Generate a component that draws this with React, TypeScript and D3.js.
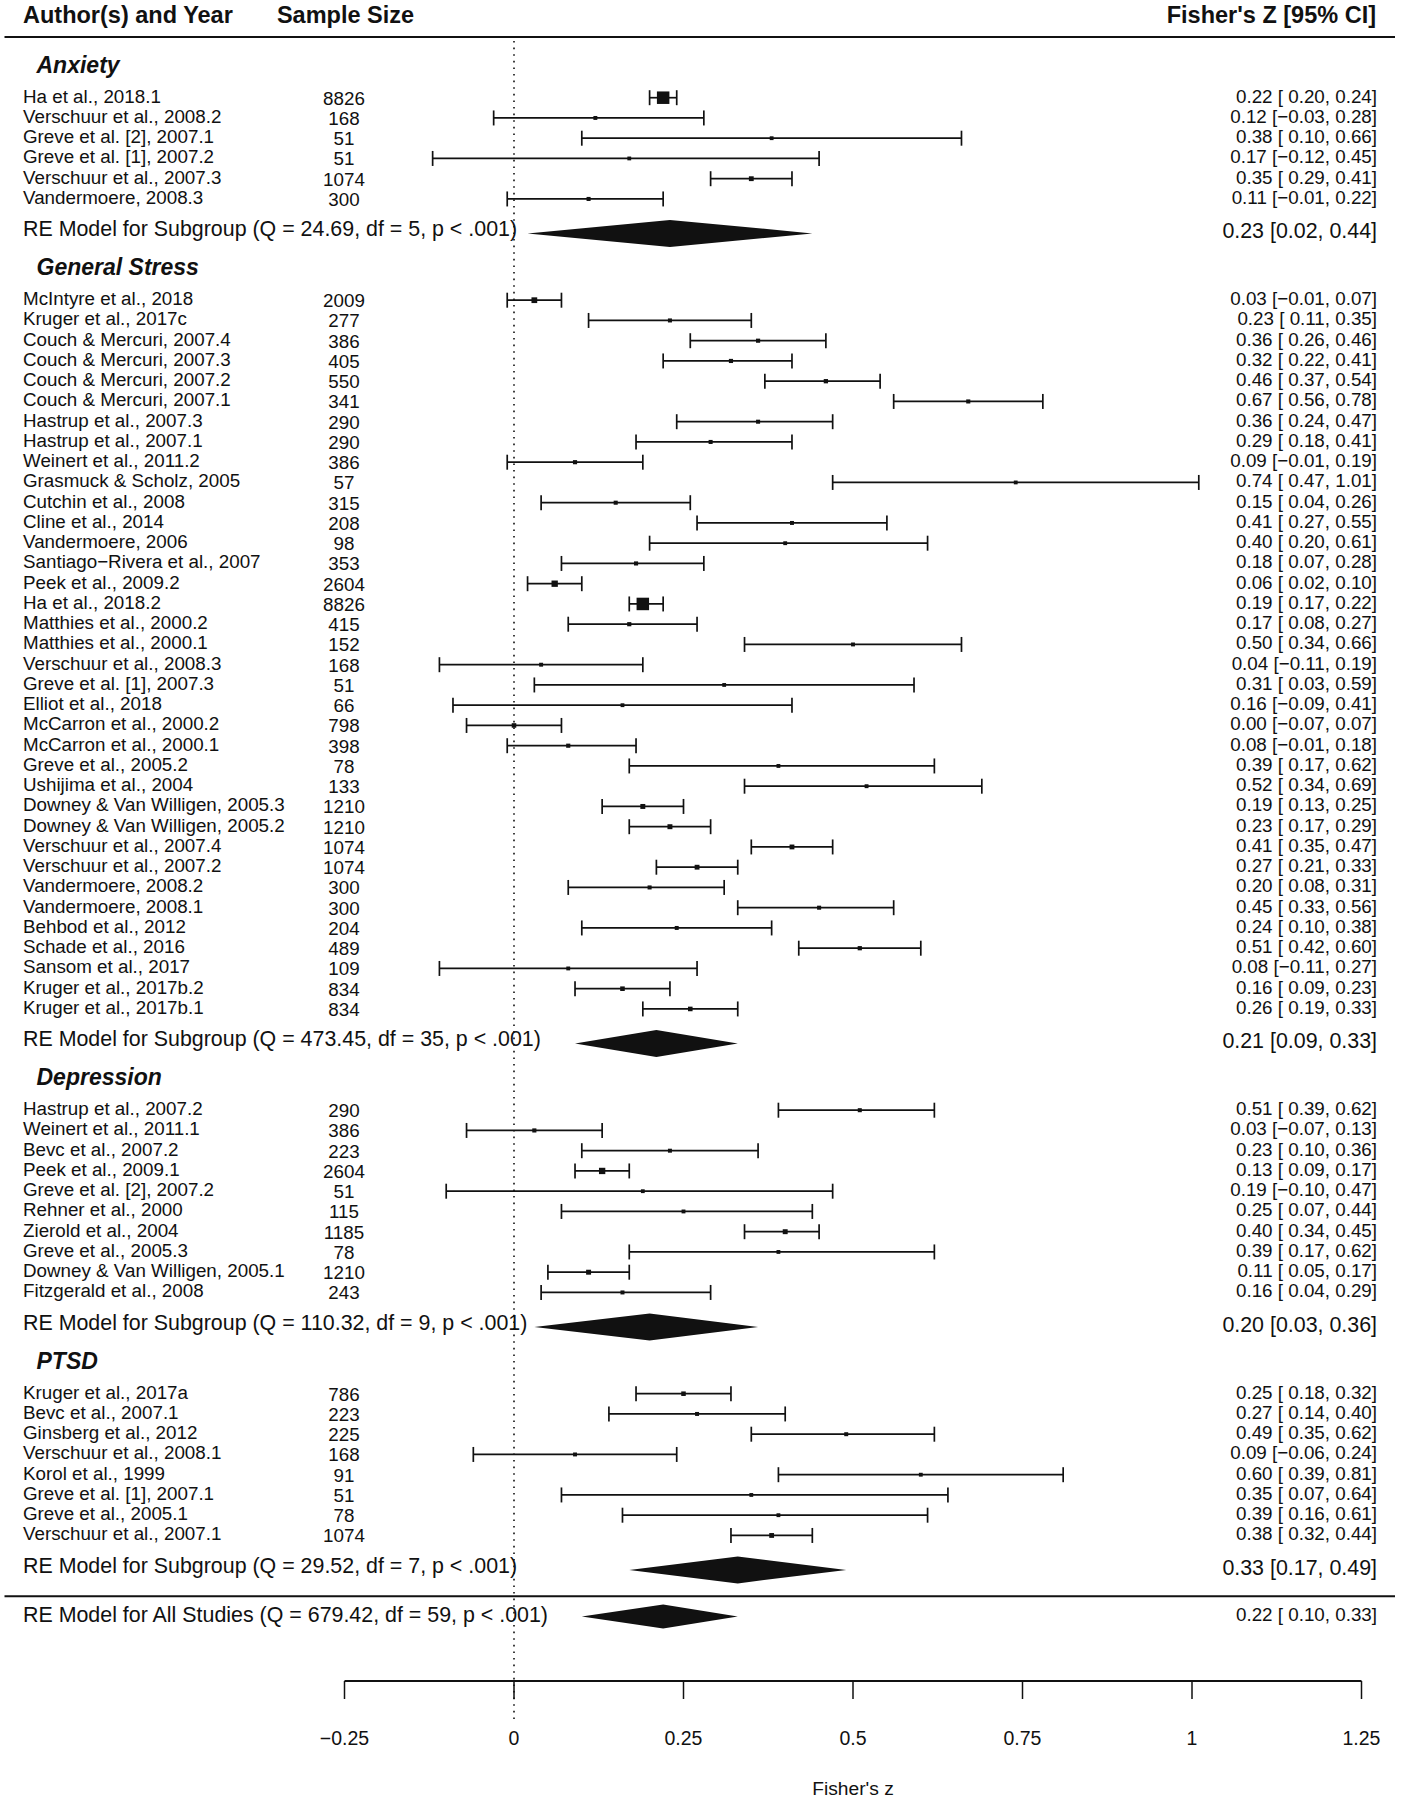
import React from 'react';
import * as d3 from 'd3';

// ---------- data ----------
const anxietyLabels = ['Ha et al., 2018.1', 'Verschuur et al., 2008.2', 'Greve et al. [2], 2007.1', 'Greve et al. [1], 2007.2', 'Verschuur et al., 2007.3', 'Vandermoere, 2008.3'];
const anxietyN = [8826, 168, 51, 51, 1074, 300];
const anxietyZ = [0.22, 0.12, 0.38, 0.17, 0.35, 0.11];
const anxietyLo = [0.20, -0.03, 0.10, -0.12, 0.29, -0.01];
const anxietyHi = [0.24, 0.28, 0.66, 0.45, 0.41, 0.22];

const stressLabels = [
  'McIntyre et al., 2018', 'Kruger et al., 2017c', 'Couch & Mercuri, 2007.4', 'Couch & Mercuri, 2007.3', 'Couch & Mercuri, 2007.2',
  'Couch & Mercuri, 2007.1', 'Hastrup et al., 2007.3', 'Hastrup et al., 2007.1', 'Weinert et al., 2011.2', 'Grasmuck & Scholz, 2005',
  'Cutchin et al., 2008', 'Cline et al., 2014', 'Vandermoere, 2006', 'Santiago\u2212Rivera et al., 2007', 'Peek et al., 2009.2',
  'Ha et al., 2018.2', 'Matthies et al., 2000.2', 'Matthies et al., 2000.1', 'Verschuur et al., 2008.3', 'Greve et al. [1], 2007.3',
  'Elliot et al., 2018', 'McCarron et al., 2000.2', 'McCarron et al., 2000.1', 'Greve et al., 2005.2', 'Ushijima et al., 2004',
  'Downey & Van Willigen, 2005.3', 'Downey & Van Willigen, 2005.2', 'Verschuur et al., 2007.4', 'Verschuur et al., 2007.2', 'Vandermoere, 2008.2',
  'Vandermoere, 2008.1', 'Behbod et al., 2012', 'Schade et al., 2016', 'Sansom et al., 2017', 'Kruger et al., 2017b.2', 'Kruger et al., 2017b.1',
];
const stressN = [2009, 277, 386, 405, 550, 341, 290, 290, 386, 57, 315, 208, 98, 353, 2604, 8826, 415, 152, 168, 51, 66, 798, 398, 78, 133, 1210, 1210, 1074, 1074, 300, 300, 204, 489, 109, 834, 834];
const stressZ = [0.03, 0.23, 0.36, 0.32, 0.46, 0.67, 0.36, 0.29, 0.09, 0.74, 0.15, 0.41, 0.40, 0.18, 0.06, 0.19, 0.17, 0.50, 0.04, 0.31, 0.16, 0.00, 0.08, 0.39, 0.52, 0.19, 0.23, 0.41, 0.27, 0.20, 0.45, 0.24, 0.51, 0.08, 0.16, 0.26];
const stressLo = [-0.01, 0.11, 0.26, 0.22, 0.37, 0.56, 0.24, 0.18, -0.01, 0.47, 0.04, 0.27, 0.20, 0.07, 0.02, 0.17, 0.08, 0.34, -0.11, 0.03, -0.09, -0.07, -0.01, 0.17, 0.34, 0.13, 0.17, 0.35, 0.21, 0.08, 0.33, 0.10, 0.42, -0.11, 0.09, 0.19];
const stressHi = [0.07, 0.35, 0.46, 0.41, 0.54, 0.78, 0.47, 0.41, 0.19, 1.01, 0.26, 0.55, 0.61, 0.28, 0.10, 0.22, 0.27, 0.66, 0.19, 0.59, 0.41, 0.07, 0.18, 0.62, 0.69, 0.25, 0.29, 0.47, 0.33, 0.31, 0.56, 0.38, 0.60, 0.27, 0.23, 0.33];

const depressionLabels = ['Hastrup et al., 2007.2', 'Weinert et al., 2011.1', 'Bevc et al., 2007.2', 'Peek et al., 2009.1', 'Greve et al. [2], 2007.2', 'Rehner et al., 2000', 'Zierold et al., 2004', 'Greve et al., 2005.3', 'Downey & Van Willigen, 2005.1', 'Fitzgerald et al., 2008'];
const depressionN = [290, 386, 223, 2604, 51, 115, 1185, 78, 1210, 243];
const depressionZ = [0.51, 0.03, 0.23, 0.13, 0.19, 0.25, 0.40, 0.39, 0.11, 0.16];
const depressionLo = [0.39, -0.07, 0.10, 0.09, -0.10, 0.07, 0.34, 0.17, 0.05, 0.04];
const depressionHi = [0.62, 0.13, 0.36, 0.17, 0.47, 0.44, 0.45, 0.62, 0.17, 0.29];

const ptsdLabels = ['Kruger et al., 2017a', 'Bevc et al., 2007.1', 'Ginsberg et al., 2012', 'Verschuur et al., 2008.1', 'Korol et al., 1999', 'Greve et al. [1], 2007.1', 'Greve et al., 2005.1', 'Verschuur et al., 2007.1'];
const ptsdN = [786, 223, 225, 168, 91, 51, 78, 1074];
const ptsdZ = [0.25, 0.27, 0.49, 0.09, 0.60, 0.35, 0.39, 0.38];
const ptsdLo = [0.18, 0.14, 0.35, -0.06, 0.39, 0.07, 0.16, 0.32];
const ptsdHi = [0.32, 0.40, 0.62, 0.24, 0.81, 0.64, 0.61, 0.44];

const groupNames = ['Anxiety', 'General Stress', 'Depression', 'PTSD'];
const groupQ = ['24.69', '473.45', '110.32', '29.52'];
const groupDf = [5, 35, 9, 7];
const groupEst = [0.23, 0.21, 0.20, 0.33];
const groupLo = [0.02, 0.09, 0.03, 0.17];
const groupHi = [0.44, 0.33, 0.36, 0.49];

const overallQ = '679.42';
const overallDf = 59;
const overallEst = 0.22;
const overallLo = 0.10;
const overallHi = 0.33;

const tickValues = [-0.25, 0, 0.25, 0.5, 0.75, 1, 1.25];
const tickLabels = ['\u22120.25', '0', '0.25', '0.5', '0.75', '1', '1.25'];

// ---------- helpers ----------
const FONT = '"Liberation Sans", Arial, Helvetica, sans-serif';
const INK = '#111';

const groupsRaw = [
  { labels: anxietyLabels, n: anxietyN, z: anxietyZ, lo: anxietyLo, hi: anxietyHi },
  { labels: stressLabels, n: stressN, z: stressZ, lo: stressLo, hi: stressHi },
  { labels: depressionLabels, n: depressionN, z: depressionZ, lo: depressionLo, hi: depressionHi },
  { labels: ptsdLabels, n: ptsdN, z: ptsdZ, lo: ptsdLo, hi: ptsdHi },
];

const f2 = (v: number) => (v < 0 ? '\u2212' : '') + Math.abs(v).toFixed(2);
const p2 = (v: number) => (v < 0 ? '\u2212' : ' ') + Math.abs(v).toFixed(2);

export default function App() {
  const x = d3.scaleLinear().domain([-0.25, 1.25]).range([344.5, 1361.5]);
  const TOP_ROW = 74;
  const y = d3.scaleLinear().domain([0, TOP_ROW]).range([1596.2, 1596.2 - 20.25 * TOP_ROW]);
  const allN = groupsRaw.flatMap((g) => g.n);
  const size = d3.scaleLinear().domain([d3.min(allN) as number, d3.max(allN) as number]).range([3.8, 12.5]);

  // assign rows
  let row = TOP_ROW;
  const groups = groupsRaw.map((g, gi) => {
    const first = row;
    const rows = g.labels.map((_, i) => first - i);
    const last = first - g.labels.length + 1;
    row = last - 5;
    return { ...g, gi, first, last, rows };
  });

  const rowFs = 18.8;
  const sumFs = 21.4;
  const headFs = 23.5;

  const diamond = (lo: number, est: number, hi: number, cy: number, h: number) =>
    `M${x(lo)},${cy} L${x(est)},${cy - h} L${x(hi)},${cy} L${x(est)},${cy + h} Z`;

  const overallY = y(-1);

  return (
    <svg width={1401} height={1800} style={{ position: 'absolute', left: 0, top: 0, background: '#fff' }} fontFamily={FONT}>
      <rect x={0} y={0} width={1401} height={1800} fill="#fff" />
      {/* header */}
      <text x={23} y={22.5} fontSize={headFs} fontWeight="bold" fill={INK}>Author(s) and Year</text>
      <text x={345.5} y={22.5} fontSize={headFs} fontWeight="bold" fill={INK} textAnchor="middle">Sample Size</text>
      <text x={1376} y={22.5} fontSize={headFs} fontWeight="bold" fill={INK} textAnchor="end">Fisher's Z [95% CI]</text>
      <line x1={4.5} x2={1395} y1={37} y2={37} stroke={INK} strokeWidth={2} />
      <line x1={4.5} x2={1395} y1={y(0)} y2={y(0)} stroke={INK} strokeWidth={2} />

      {/* reference line */}
      <line x1={x(0)} x2={x(0)} y1={41} y2={1720} stroke={INK} strokeWidth={1.6} strokeDasharray="1.6,5" />

      {groups.map((g) => {
        const headY = y(g.first + 1.6);
        const sumY = y(g.last - 1.7);
        return (
          <g key={g.gi}>
            <text x={36.5} y={headY + 7.5} fontSize={23} fontWeight="bold" fontStyle="italic" fill={INK}>{groupNames[g.gi]}</text>
            {g.labels.map((lab, i) => {
              const cy = y(g.rows[i]);
              const s = size(g.n[i]);
              return (
                <g key={i}>
                  <text x={23} y={cy + 4.9} fontSize={rowFs} fill={INK}>{lab}</text>
                  <text x={344} y={cy + 7} fontSize={rowFs} fill={INK} textAnchor="middle">{g.n[i]}</text>
                  <line x1={x(g.lo[i])} x2={x(g.hi[i])} y1={cy} y2={cy} stroke={INK} strokeWidth={1.7} />
                  <line x1={x(g.lo[i])} x2={x(g.lo[i])} y1={cy - 7.5} y2={cy + 7.5} stroke={INK} strokeWidth={1.7} />
                  <line x1={x(g.hi[i])} x2={x(g.hi[i])} y1={cy - 7.5} y2={cy + 7.5} stroke={INK} strokeWidth={1.7} />
                  <rect x={x(g.z[i]) - s / 2} y={cy - s / 2} width={s} height={s} fill={INK} />
                  <text x={1377} y={cy + 4.9} fontSize={rowFs} fill={INK} textAnchor="end" style={{ whiteSpace: 'pre' }}>
                    {`${f2(g.z[i])} [${p2(g.lo[i])}, ${f2(g.hi[i])}]`}
                  </text>
                </g>
              );
            })}
            <text x={23} y={sumY + 3} fontSize={sumFs} fill={INK}>
              {`RE Model for Subgroup (Q = ${groupQ[g.gi]}, df = ${groupDf[g.gi]}, p < .001)`}
            </text>
            <path d={diamond(groupLo[g.gi], groupEst[g.gi], groupHi[g.gi], sumY, 13.5)} fill={INK} />
            <text x={1377} y={sumY + 5} fontSize={sumFs} fill={INK} textAnchor="end">
              {`${f2(groupEst[g.gi])} [${f2(groupLo[g.gi])}, ${f2(groupHi[g.gi])}]`}
            </text>
          </g>
        );
      })}

      {/* overall */}
      <text x={23} y={overallY + 5.5} fontSize={sumFs} fill={INK}>
        {`RE Model for All Studies (Q = ${overallQ}, df = ${overallDf}, p < .001)`}
      </text>
      <path d={diamond(overallLo, overallEst, overallHi, overallY, 12)} fill={INK} />
      <text x={1377} y={overallY + 5} fontSize={rowFs} fill={INK} textAnchor="end" style={{ whiteSpace: 'pre' }}>
        {`${f2(overallEst)} [${p2(overallLo)}, ${f2(overallHi)}]`}
      </text>

      {/* axis */}
      <line x1={x(-0.25)} x2={x(1.25)} y1={1681} y2={1681} stroke={INK} strokeWidth={2} />
      {tickValues.map((t, i) => (
        <g key={i}>
          <line x1={x(t)} x2={x(t)} y1={1681} y2={1699} stroke={INK} strokeWidth={1.5} />
          <text x={x(t)} y={1744.5} fontSize={19.5} fill={INK} textAnchor="middle">{tickLabels[i]}</text>
        </g>
      ))}
      <text x={x(0.5)} y={1795} fontSize={19.2} fill={INK} textAnchor="middle">Fisher's z</text>
    </svg>
  );
}
